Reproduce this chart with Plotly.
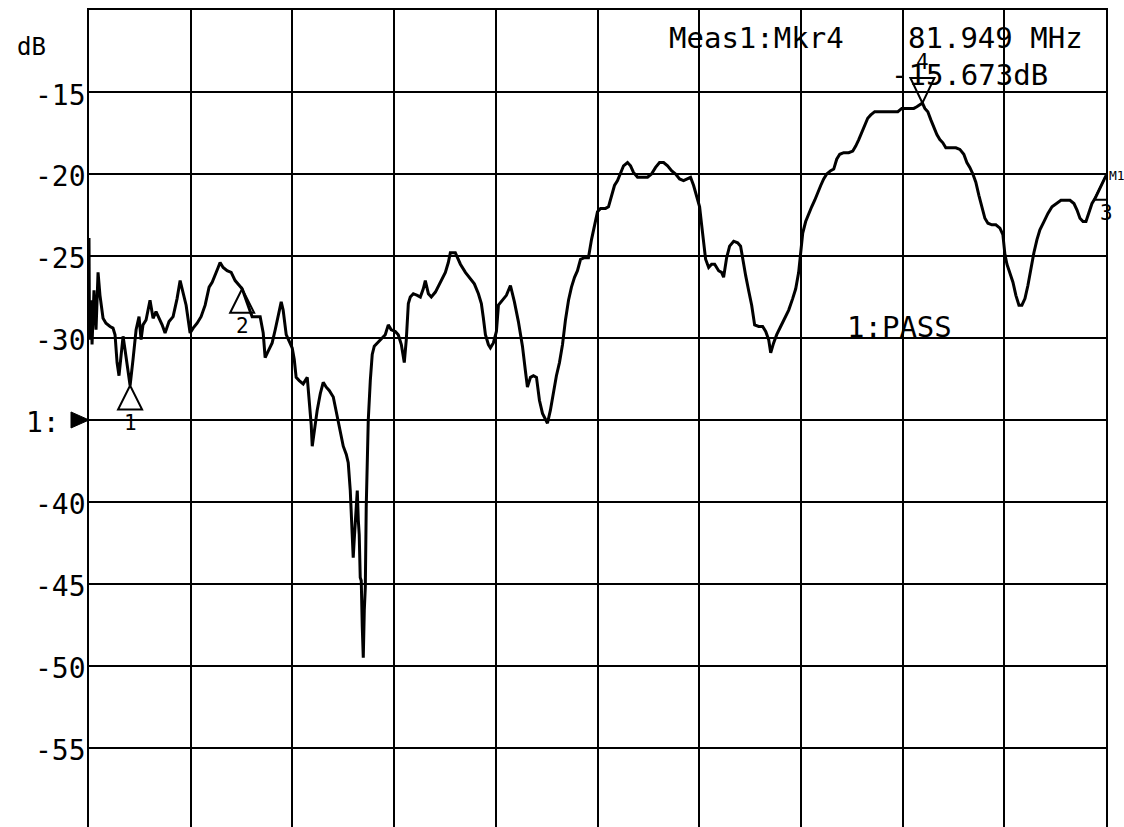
import plotly.graph_objects as go

# Sweep settings (MHz) and display scale (dB)
START_MHZ = 0.0
STOP_MHZ = 100.0
REF_LEVEL_DB = -35.0
TOP_DB = -10.0
BOTTOM_DB = -59.82

# Measured transmission trace
freq_mhz = [
    0.0, 0.05, 0.2, 0.3, 0.49, 0.69, 0.89, 1.08, 1.38, 1.67,
    2.07, 2.36, 2.56, 2.76, 2.95, 3.15, 3.35, 3.54, 3.74, 4.04,
    4.33, 4.63, 4.92, 5.12, 5.31, 5.61, 6.0, 6.30, 6.59, 6.89,
    7.19, 7.48, 7.87, 8.27, 8.66, 8.96, 9.25, 9.55, 9.94, 10.24,
    10.63, 11.02, 11.42, 11.81, 12.11, 12.40, 12.70, 12.89, 13.19, 13.58,
    13.98, 14.37, 14.76, 15.06, 15.35, 15.65, 16.04, 16.44, 16.83, 17.13,
    17.32, 17.62, 18.01, 18.31, 18.60, 18.90, 19.09, 19.39, 19.69, 19.98,
    20.18, 20.37, 20.67, 21.06, 21.46, 21.65, 21.85, 21.95, 22.15, 22.44,
    22.74, 23.03, 23.33, 23.62, 24.02, 24.31, 24.61, 25.0, 25.30, 25.49,
    25.69, 25.89, 25.98, 26.08, 26.18, 26.38, 26.48, 26.57, 26.67, 26.77,
    26.87, 26.97, 27.07, 27.17, 27.26, 27.36, 27.46, 27.66, 27.85, 28.05,
    28.35, 28.74, 29.13, 29.43, 29.72, 30.12, 30.41, 30.71, 31.0, 31.20,
    31.40, 31.59, 31.89, 32.28, 32.58, 32.87, 33.07, 33.37, 33.66, 34.06,
    34.55, 35.04, 35.33, 35.53, 36.02, 36.52, 37.01, 37.40, 37.89, 38.29,
    38.58, 38.78, 38.98, 39.27, 39.47, 39.76, 40.06, 40.26, 40.65, 41.04,
    41.44, 41.83, 42.22, 42.62, 42.91, 43.11, 43.41, 43.70, 44.0, 44.29,
    44.59, 44.88, 45.08, 45.37, 45.67, 45.96, 46.26, 46.56, 46.85, 47.15,
    47.44, 47.74, 48.03, 48.33, 48.72, 49.11, 49.41, 49.70, 50.0, 50.30,
    50.79, 51.08, 51.38, 51.67, 51.97, 52.26, 52.56, 52.95, 53.25, 53.54,
    53.94, 54.43, 54.92, 55.31, 55.71, 56.10, 56.50, 56.89, 57.28, 57.68,
    58.07, 58.46, 58.86, 59.15, 59.45, 59.74, 60.04, 60.24, 60.43, 60.63,
    60.93, 61.22, 61.52, 61.91, 62.20, 62.40, 62.70, 62.99, 63.39, 63.78,
    64.07, 64.27, 64.57, 64.86, 65.16, 65.45, 65.85, 66.24, 66.54, 66.83,
    67.03, 67.32, 67.62, 68.01, 68.41, 68.80, 69.19, 69.49, 69.78, 69.98,
    70.18, 70.47, 70.77, 71.06, 71.36, 71.65, 71.95, 72.24, 72.54, 72.93,
    73.23, 73.52, 73.82, 74.21, 74.70, 75.10, 75.39, 75.69, 75.98, 76.28,
    76.57, 76.87, 77.26, 77.66, 78.15, 78.64, 79.13, 79.53, 79.92, 80.31,
    80.71, 81.10, 81.40, 81.949, 82.19, 82.48, 82.78, 83.07, 83.37, 83.66,
    83.96, 84.25, 84.74, 85.24, 85.63, 86.02, 86.32, 86.61, 86.91, 87.20,
    87.50, 87.80, 88.09, 88.39, 88.78, 89.17, 89.57, 89.86, 90.06, 90.26,
    90.55, 90.85, 91.14, 91.44, 91.73, 92.03, 92.32, 92.62, 92.91, 93.21,
    93.50, 93.90, 94.29, 94.69, 95.08, 95.57, 96.06, 96.46, 96.85, 97.15,
    97.44, 97.74, 98.03, 98.33, 98.62, 98.92, 99.21, 99.51, 99.80, 100.0,
]
trace_db = [
    -23.9, -30.1, -27.7, -30.4, -27.1, -29.5, -26.0, -27.4, -28.8, -29.1,
    -29.3, -29.4, -29.8, -31.5, -32.3, -31.0, -29.9, -30.7, -31.5, -32.9,
    -31.3, -29.5, -28.7, -30.1, -29.2, -28.9, -27.7, -28.8, -28.4, -28.8,
    -29.2, -29.7, -29.0, -28.7, -27.6, -26.5, -27.2, -28.0, -29.7, -29.4,
    -29.1, -28.7, -28.0, -26.9, -26.6, -26.2, -25.7, -25.4, -25.7, -25.9,
    -26.0, -26.5, -26.8, -27.0, -27.5, -28.0, -28.7, -28.7, -28.7, -29.7,
    -31.2, -30.8, -30.3, -29.5, -28.6, -27.8, -28.3, -29.8, -30.2, -30.6,
    -31.3, -32.4, -32.6, -32.8, -32.4, -33.8, -35.3, -36.6, -35.6, -34.4,
    -33.4, -32.7, -33.0, -33.2, -33.6, -34.5, -35.6, -36.6, -37.1, -37.6,
    -39.3, -41.7, -43.4, -42.3, -41.4, -39.3, -41.1, -42.0, -44.6, -44.8,
    -47.6, -49.5, -46.6, -45.2, -40.3, -36.8, -35.0, -32.6, -31.0, -30.5,
    -30.3, -30.1, -29.8, -29.2, -29.5, -29.6, -29.8, -30.4, -31.5, -30.1,
    -27.9, -27.5, -27.3, -27.4, -27.5, -27.0, -26.5, -27.3, -27.5, -27.2,
    -26.6, -26.0, -25.4, -24.8, -24.8, -25.5, -26.0, -26.3, -26.7, -27.3,
    -27.9, -28.8, -29.8, -30.4, -30.6, -30.3, -29.6, -28.0, -27.7, -27.4,
    -26.8, -27.8, -29.0, -30.5, -32.0, -33.0, -32.4, -32.3, -32.4, -33.8,
    -34.6, -35.0, -35.2, -34.4, -33.3, -32.3, -31.5, -30.4, -28.9, -27.7,
    -26.9, -26.3, -25.9, -25.2, -25.1, -25.1, -24.0, -23.1, -22.3, -22.1,
    -22.1, -22.0, -21.3, -20.7, -20.4, -19.9, -19.5, -19.3, -19.5, -19.9,
    -20.2, -20.2, -20.2, -20.0, -19.6, -19.3, -19.3, -19.5, -19.8, -20.0,
    -20.3, -20.4, -20.3, -20.2, -20.7, -21.3, -22.0, -23.1, -24.3, -25.2,
    -25.7, -25.5, -25.5, -25.9, -26.0, -26.3, -25.1, -24.4, -24.1, -24.2,
    -24.4, -25.2, -26.2, -27.1, -28.0, -29.2, -29.3, -29.3, -29.6, -30.1,
    -30.9, -30.3, -29.8, -29.3, -28.8, -28.3, -27.6, -27.0, -26.0, -24.6,
    -23.6, -22.9, -22.4, -22.0, -21.6, -21.1, -20.7, -20.3, -20.0, -19.8,
    -19.7, -19.1, -18.8, -18.7, -18.7, -18.6, -18.3, -17.9, -17.5, -17.1,
    -16.6, -16.4, -16.2, -16.2, -16.2, -16.2, -16.2, -16.2, -16.0, -16.0,
    -16.0, -16.0, -15.9, -15.673, -16.0, -16.2, -16.7, -17.2, -17.6, -17.9,
    -18.1, -18.4, -18.4, -18.4, -18.5, -18.8, -19.3, -19.6, -20.0, -20.5,
    -21.3, -22.0, -22.7, -23.0, -23.1, -23.1, -23.3, -23.7, -24.9, -25.5,
    -26.0, -26.6, -27.4, -28.0, -28.0, -27.6, -26.8, -25.7, -24.8, -24.0,
    -23.4, -22.9, -22.4, -22.0, -21.8, -21.6, -21.6, -21.6, -21.8, -22.2,
    -22.7, -22.9, -22.9, -22.4, -21.8, -21.5, -21.1, -20.7, -20.3, -20.1,
]

# Markers: id, stimulus, response, orientation
marker_ids = ["1", "2", "3", "4"]
marker_freq_mhz = [4.04, 15.06, 100.0, 81.949]
marker_db = [-32.9, -27.0, -20.1, -15.673]
marker_pointing_down = [False, False, False, True]
active_marker = 3  # index of Mkr4

# Vertical scale labels (the reference division carries the channel tag)
db_ticks = [-15, -20, -25, -30, -35, -40, -45, -50, -55]
db_tick_labels = [str(v) if v != REF_LEVEL_DB else "1:" for v in db_ticks]

FONT = "DejaVu Sans Mono"
INK = "black"

fig = go.Figure()
fig.add_trace(go.Scatter(
    x=freq_mhz, y=trace_db, mode="lines",
    line=dict(color=INK, width=3), hoverinfo="skip",
))

shapes = []
annotations = []

# Scale labels drawn just left of the graticule
for v, lab in zip(db_ticks, db_tick_labels):
    is_ref = v == REF_LEVEL_DB
    annotations.append(dict(
        x=0, y=v, xref="paper", yref="y", text=lab, showarrow=False,
        xanchor="right", yanchor="middle", xshift=-27 if is_ref else -1,
        yshift=-3, font=dict(family=FONT, size=28, color=INK),
    ))

# Marker triangles with apex on the trace, plus their numbers
for name, f, db, down in zip(marker_ids, marker_freq_mhz, marker_db, marker_pointing_down):
    if down:
        path = "M 0,0 L -12,25 L 12,25 Z"
        shift = 41
    else:
        path = "M 0,0 L -12,-24 L 12,-24 Z"
        shift = -37
    shapes.append(dict(
        type="path", xref="x", yref="y", xsizemode="pixel", ysizemode="pixel",
        xanchor=f, yanchor=db, path=path, line=dict(color=INK, width=2),
        fillcolor="rgba(0,0,0,0)", layer="above",
    ))
    annotations.append(dict(
        x=f, y=db, xref="x", yref="y", text=name, showarrow=False,
        yshift=shift, font=dict(family=FONT, size=21, color=INK),
    ))

# Reference level pointer on the left edge
shapes.append(dict(
    type="path", xref="paper", yref="y", xsizemode="pixel", ysizemode="pixel",
    xanchor=0, yanchor=REF_LEVEL_DB, path="M -18,8 L 0,0 L -18,-8 Z",
    line=dict(color=INK, width=1), fillcolor=INK, layer="above",
))

txt = dict(family=FONT, size=29, color=INK)
mf = marker_freq_mhz[active_marker]
md = marker_db[active_marker]
annotations += [
    dict(text="dB", xref="paper", yref="paper", x=-0.0728, y=0.9547,
         xanchor="left", yanchor="middle", showarrow=False,
         font=dict(family=FONT, size=24, color=INK)),
    dict(text=f"Meas1:Mkr{marker_ids[active_marker]}", xref="paper", yref="paper",
         x=0.5683, y=0.9657, xanchor="left", yanchor="middle", showarrow=False, font=txt),
    dict(text=f"{mf:.3f} MHz", xref="paper", yref="paper",
         x=0.8033, y=0.9657, xanchor="left", yanchor="middle", showarrow=False, font=txt),
    dict(text=f"{md:.3f}dB", xref="paper", yref="paper",
         x=0.7866, y=0.9204, xanchor="left", yanchor="middle", showarrow=False, font=txt),
    dict(text="1:PASS", xref="paper", yref="paper",
         x=0.7434, y=0.612, xanchor="left", yanchor="middle", showarrow=False, font=txt),
    dict(text="M1", x=STOP_MHZ, y=marker_db[2], xref="x", yref="y",
         xanchor="left", yanchor="middle", xshift=1, showarrow=False,
         font=dict(family=FONT, size=13, color=INK)),
]

fig.update_layout(
    width=1124, height=827,
    margin=dict(l=89, r=18, t=10, b=0, pad=0),
    paper_bgcolor="white", plot_bgcolor="white",
    showlegend=False,
    font=dict(family=FONT, color=INK, size=28),
    shapes=shapes, annotations=annotations,
    xaxis=dict(
        range=[START_MHZ, STOP_MHZ], tick0=START_MHZ, dtick=(STOP_MHZ - START_MHZ) / 10,
        showgrid=True, gridcolor=INK, gridwidth=2, showticklabels=False, ticks="",
        zeroline=False, showline=True, linecolor=INK, linewidth=2, side="top",
        mirror=False, fixedrange=True,
    ),
    yaxis=dict(
        range=[BOTTOM_DB, TOP_DB], tickmode="array", tickvals=db_ticks,
        showticklabels=False, showgrid=True, gridcolor=INK, gridwidth=2,
        zeroline=False, showline=True, linecolor=INK, linewidth=2, mirror=True,
        ticks="", fixedrange=True,
    ),
)

fig.write_html("out.html")
